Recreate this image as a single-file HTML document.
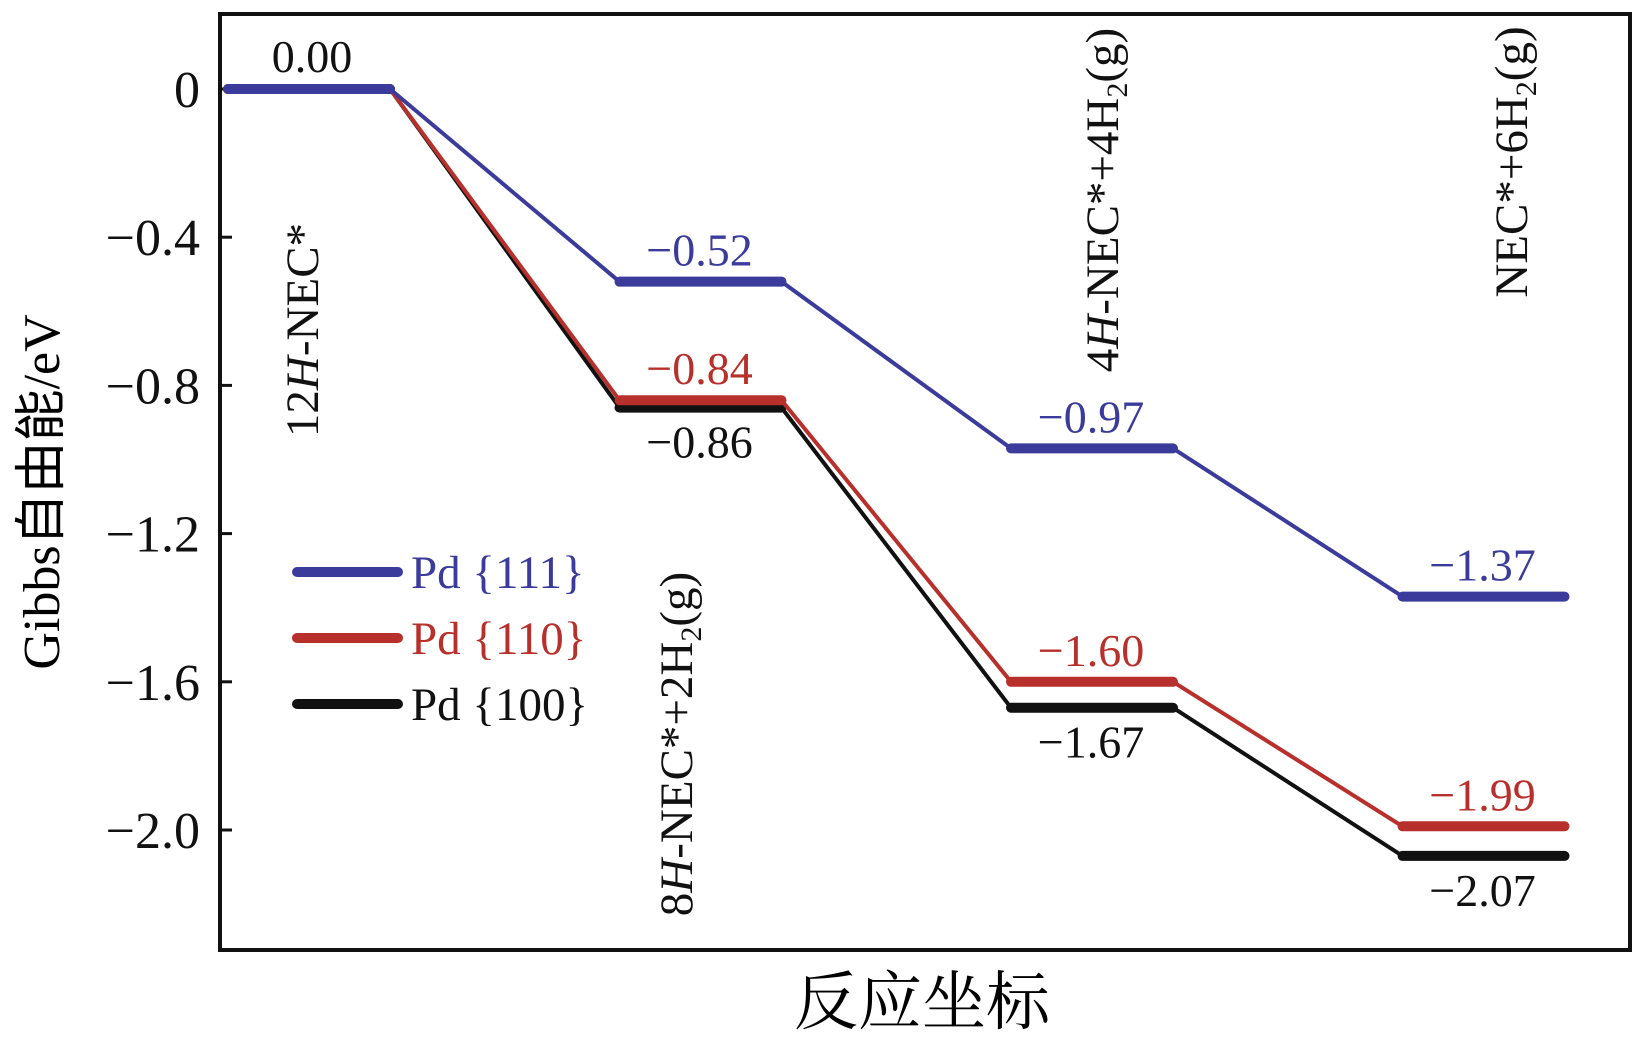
<!DOCTYPE html>
<html><head><meta charset="utf-8"><style>
html,body{margin:0;padding:0;background:#fff;}
svg{display:block;font-family:"Liberation Serif","Noto Serif CJK SC",serif;}
</style></head><body>
<svg width="1645" height="1043" viewBox="0 0 1645 1043">
<rect x="0" y="0" width="1645" height="1043" fill="#fff"/>
<g id="plot"></g>
<rect x="220" y="14" width="1410" height="936" fill="none" stroke="#111" stroke-width="4"/>
<text x="47" y="492" font-size="52" text-anchor="middle" transform="rotate(-90 47 492)" dominant-baseline="middle" font-family="Liberation Serif, Noto Sans CJK SC, serif">Gibbs自由能/eV</text>
<text x="922" y="1024" font-size="64" text-anchor="middle" font-family="Liberation Serif, Noto Serif CJK SC, serif">反应坐标</text>
</svg>
<script>
const categories = ["12H-NEC*", "8H-NEC*+2H2(g)", "4H-NEC*+4H2(g)", "NEC*+6H2(g)"];
const seriesNames = ["Pd {111}", "Pd {110}", "Pd {100}"];
const pd111 = [0, -0.52, -0.97, -1.37];
const pd110 = [0, -0.84, -1.60, -1.99];
const pd100 = [0, -0.86, -1.67, -2.07];
const yTicks = [0, -0.4, -0.8, -1.2, -1.6, -2.0];
const yTickLabels = ["0", "\u22120.4", "\u22120.8", "\u22121.2", "\u22121.6", "\u22122.0"];

const NS = "http://www.w3.org/2000/svg";
const plot = document.getElementById('plot');
function yS(v){ return 89 - v * 370.5; }
function xStart(i){ return 228 + i * 391.5; }
const levelW = 162;
function mk(tag, attrs, parent){ const e = document.createElementNS(NS, tag); for (const k in attrs) e.setAttribute(k, attrs[k]); (parent||plot).appendChild(e); return e; }

yTicks.forEach((t, i) => {
  const tk = mk('line', {x1:220, x2:232, y1:yS(t), y2:yS(t), stroke:'#111', 'stroke-width':3});
  
  
  const lb = mk('text', {x:200, y:yS(t)+18, 'font-size':52, 'text-anchor':'end', fill:'#111'});
  lb.textContent = yTickLabels[i];
  
  
});

const colors = ["#3b3b9c", "#b8302b", "#111111"];
const allSeries = [pd111, pd110, pd100];
[2,1,0].forEach(si => {
  const s = allSeries[si];
  const g = mk('g', {});
  
  
  for (let i = 0; i < s.length - 1; i++) {
    const c = mk('line', {x1:xStart(i)+levelW, y1:yS(s[i]), x2:xStart(i+1), y2:yS(s[i+1]), stroke:colors[si], 'stroke-width':4}, g);
    
    
  }
  s.forEach((v, i) => {
    const l = mk('line', {x1:xStart(i), y1:yS(v), x2:xStart(i)+levelW, y2:yS(v), stroke:colors[si], 'stroke-width':10, 'stroke-linecap':'round'}, g);
    
    
  });
});

function vlabel(txt, x, y, col){
  const t = mk('text', {x:x, y:y, 'font-size':46, 'text-anchor':'middle', fill:col});
  t.textContent = txt;
  
  
}
function fmt(v){ return v === 0 ? "0.00" : "\u2212" + Math.abs(v).toFixed(2); }
vlabel(fmt(pd100[0]), xStart(0)+84, 72, "#111");
for (let i = 1; i < 4; i++) {
  const cx = xStart(i) + 80;
  vlabel(fmt(pd111[i]), cx, yS(pd111[i]) - 16, colors[0]);
  vlabel(fmt(pd110[i]), cx, yS(pd110[i]) - 16, colors[1]);
  vlabel(fmt(pd100[i]), cx, yS(pd100[i]) + 50, colors[2]);
}

const catPos = [[318,330],[692,744],[1118,200],[1527,162]];
const catHtml = [
  '12<tspan font-style="italic">H</tspan>-NEC*',
  '8<tspan font-style="italic">H</tspan>-NEC*+2H<tspan font-size="30" dy="9">2</tspan><tspan dy="-9">(g)</tspan>',
  '4<tspan font-style="italic">H</tspan>-NEC*+4H<tspan font-size="30" dy="9">2</tspan><tspan dy="-9">(g)</tspan>',
  'NEC*+6H<tspan font-size="30" dy="9">2</tspan><tspan dy="-9">(g)</tspan>'
];
categories.forEach((c, i) => {
  const [x, y] = catPos[i];
  const t = mk('text', {x:x, y:y, 'font-size':47, 'text-anchor':'middle', fill:'#111', transform:'rotate(-90 '+x+' '+y+')'});
  t.innerHTML = catHtml[i];
  
  
});

const lg = mk('g', {});


seriesNames.forEach((n, i) => {
  const y = 572 + i * 66;
  const l = mk('line', {x1:297, x2:398, y1:y, y2:y, stroke:colors[i], 'stroke-width':10, 'stroke-linecap':'round'}, lg);
  
  
  const t = mk('text', {x:411, y:y+16, 'font-size':47, fill:colors[i]}, lg);
  t.textContent = n;
  
  
});
</script>
</body></html>
